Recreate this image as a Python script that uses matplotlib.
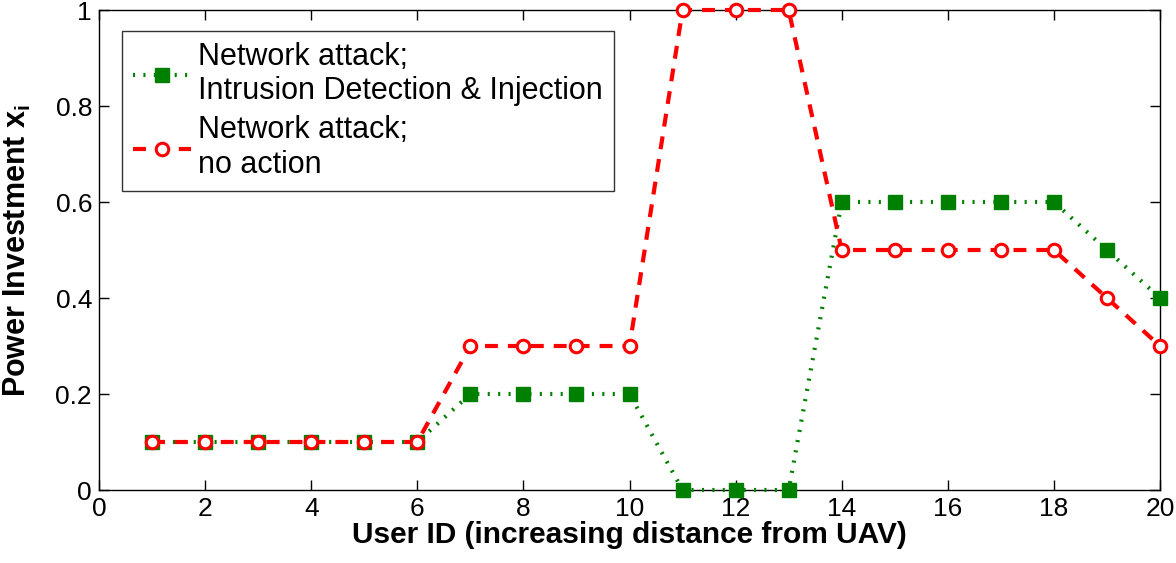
import numpy as np
import matplotlib
matplotlib.use("Agg")
import matplotlib.pyplot as plt

plt.rcParams['font.family'] = ['Liberation Sans', 'DejaVu Sans']
plt.rcParams['mathtext.fontset'] = 'custom'
plt.rcParams['mathtext.rm'] = 'Liberation Sans'
plt.rcParams['mathtext.bf'] = 'Liberation Sans:bold'

user_id = np.arange(1, 21)
ids_x = [0.1, 0.1, 0.1, 0.1, 0.1, 0.1, 0.2, 0.2, 0.2, 0.2,
         0.0, 0.0, 0.0, 0.6, 0.6, 0.6, 0.6, 0.6, 0.5, 0.4]
no_action_x = [0.1, 0.1, 0.1, 0.1, 0.1, 0.1, 0.3, 0.3, 0.3, 0.3,
               1.0, 1.0, 1.0, 0.5, 0.5, 0.5, 0.5, 0.5, 0.4, 0.3]

xticks = [0, 2, 4, 6, 8, 10, 12, 14, 16, 18, 20]
yticks = [0, 0.2, 0.4, 0.6, 0.8, 1]

green = (0, 0.5, 0)

fig = plt.figure(figsize=(11.76, 5.63), dpi=100)
ax = fig.add_axes([99/1176, 1 - 490/563, (1160 - 99)/1176, (490 - 10)/563])

ax.plot(user_id, ids_x, color=green, lw=3, dashes=(0.5, 2.0), marker='s', ms=10,
        mfc=green, mec=green, clip_on=False, zorder=3,
        label='Network attack;\nIntrusion Detection & Injection')
ax.plot(user_id, no_action_x, color='red', lw=3, dashes=(3.1, 2.4), marker='o', ms=9,
        mfc='white', mec='red', mew=2.2, clip_on=False, zorder=4,
        label='Network attack;\nno action')

ax.set_xlim(0, 20)
ax.set_ylim(0, 1)
ax.set_xticks(xticks)
ax.set_xticklabels([str(t) for t in xticks])
ax.set_yticks(yticks)
ax.set_yticklabels(['0', '0.2', '0.4', '0.6', '0.8', '1'])
ax.tick_params(direction='in', length=7, width=1, top=True, right=True,
               labelsize=19, pad=5)
for s in ax.spines.values():
    s.set_linewidth(1)

ax.set_xlabel('User ID (increasing distance from UAV)', fontsize=21.5,
              fontweight='bold', labelpad=0)
ax.set_ylabel(r'Power Investment x$_{\mathbf{i}}$', fontsize=22,
              fontweight='bold', labelpad=16)

leg = ax.legend(loc='upper left', bbox_to_anchor=(23/1061, 1 - 21/480),
                fontsize=22, frameon=True, fancybox=False, edgecolor='black',
                handlelength=1.9, borderpad=0.35, labelspacing=0.3,
                handletextpad=0.25, borderaxespad=0)
leg.get_frame().set_linewidth(1)

fig.savefig('out.png', dpi=100)
